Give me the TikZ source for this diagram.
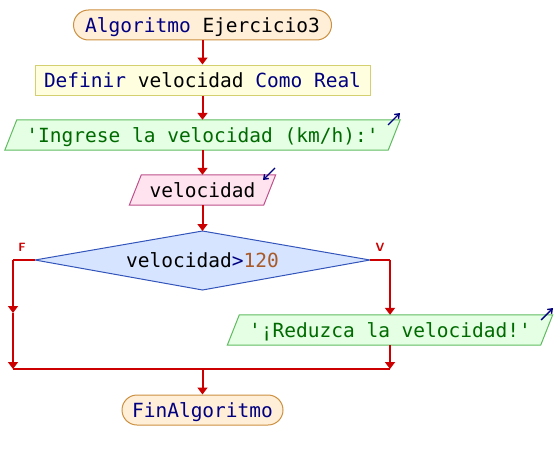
\documentclass[tikz,border=0pt]{standalone}
\usepackage{fontspec}
\setmonofont{DejaVu Sans Mono}
\usetikzlibrary{arrows.meta}
\definecolor{flowred}{HTML}{CC0000}
\definecolor{kw}{HTML}{000080}
\definecolor{strg}{HTML}{006A00}
\definecolor{numc}{HTML}{A85A28}
\definecolor{termfill}{HTML}{FFEFD8}
\definecolor{termdraw}{HTML}{CC9040}
\definecolor{deffill}{HTML}{FFFFE0}
\definecolor{defdraw}{HTML}{D4D070}
\definecolor{outfill}{HTML}{E4FFE4}
\definecolor{outdraw}{HTML}{60BB60}
\definecolor{infill}{HTML}{FFE4F0}
\definecolor{indraw}{HTML}{C0508A}
\definecolor{decfill}{HTML}{D6E4FF}
\definecolor{decdraw}{HTML}{3355BB}
\begin{document}
\begin{tikzpicture}[x=1pt,y=1pt,
  every node/.style={font=\ttfamily\fontsize{19.5}{22}\selectfont, inner sep=0pt, text depth=0pt},
  term/.style={draw=termdraw, fill=termfill, rounded corners=15pt, line width=1pt, minimum height=30pt},
  defbox/.style={draw=defdraw, fill=deffill, line width=1pt, minimum height=30pt},
  txtbox/.style={minimum height=30pt},
  outshape/.style={draw=outdraw, fill=outfill, line width=1pt},
  inshape/.style={draw=indraw, fill=infill, line width=1pt},
  decshape/.style={draw=decdraw, fill=decfill, line width=1pt},
  flowline/.style={draw=flowred, line width=2pt},
  flowarr/.style={flowline, -{Triangle[width=10pt,length=7pt]}},
  iconarr/.style={draw=kw, line width=1.4pt, -{Straight Barb[width=6pt,length=4pt]}},
  branchlbl/.style={font=\sffamily\bfseries\fontsize{12}{14}\selectfont, text=flowred}
]
\useasboundingbox (0,0) rectangle (556,-460);

% start
\node[term, minimum width=258pt] (start) at (202.5,-25) {\textcolor{kw}{Algoritmo} Ejercicio3};
% define
\node[defbox, minimum width=335pt] (def) at (202.5,-80) {\textcolor{kw}{Definir} velocidad \textcolor{kw}{Como Real}};
% output 1
\node[txtbox, minimum width=383pt] (out1) at (202.5,-135) {};
\path[outshape] ([xshift=-6pt]out1.south west) -- ([xshift=6pt]out1.north west) -- ([xshift=6pt]out1.north east) -- ([xshift=-6pt]out1.south east) -- cycle;
\node[text=strg] (out1t) at (out1.center) {'Ingrese la velocidad (km/h):'};
% input
\node[txtbox, minimum width=134pt] (in1) at (202.5,-190) {};
\path[inshape] ([xshift=-6pt]in1.south west) -- ([xshift=6pt]in1.north west) -- ([xshift=6pt]in1.north east) -- ([xshift=-6pt]in1.south east) -- cycle;
\node (in1t) at (in1.center) {velocidad};
% decision
\coordinate (decW) at (35,-260);
\coordinate (decE) at (370,-260);
\coordinate (decN) at (202.5,-231);
\coordinate (decS) at (202.5,-290);
\path[decshape] (decW) -- (decN) -- (decE) -- (decS) -- cycle;
\node (dec) at (202.5,-260) {velocidad\textcolor{kw}{>}\textcolor{numc}{120}};
% output 2
\node[txtbox, minimum width=313pt] (out2) at (390,-330) {};
\path[outshape] ([xshift=-6pt]out2.south west) -- ([xshift=6pt]out2.north west) -- ([xshift=6pt]out2.north east) -- ([xshift=-6pt]out2.south east) -- cycle;
\node[text=strg] (out2t) at (out2.center) {'¡Reduzca la velocidad!'};
% end
\node[term, minimum width=161pt] (fin) at (202.5,-410) {\textcolor{kw}{FinAlgoritmo}};

% icons
\coordinate (i1a) at (388,-125); \coordinate (i1b) at (400,-113);
\draw[iconarr] (i1a) -- (i1b);
\coordinate (i2a) at (275,-168); \coordinate (i2b) at (263,-180);
\draw[iconarr] (i2a) -- (i2b);
\coordinate (i3a) at (541,-320); \coordinate (i3b) at (553,-308);
\draw[iconarr] (i3a) -- (i3b);

% branch labels
\node[branchlbl] (lf) at (22,-247) {F};
\node[branchlbl] (lv) at (380,-247) {V};

% connectors
\coordinate (lc) at (13,-260);
\coordinate (lm) at (13,-313);
\coordinate (lb) at (13,-369);
\coordinate (rc) at (390,-260);
\coordinate (rb) at (390,-369);
\coordinate (mid) at (202.5,-369);

\draw[flowarr] (start.south) -- (def.north);
\draw[flowarr] (def.south) -- (out1.north);
\draw[flowarr] (out1.south) -- (in1.north);
\draw[flowarr] (in1.south) -- (decN);
\draw[flowline] (decW) -- (lc);
\draw[flowarr] (lc) -- (lm);
\draw[flowarr] (lm) -- (lb);
\draw[flowline] (lb) -- (rb);
\draw[flowline] (decE) -- (rc);
\draw[flowarr] (rc) -- (out2.north);
\draw[flowarr] (out2.south) -- (rb);
\draw[flowarr] (mid) -- (fin.north);
\end{tikzpicture}
\end{document}
